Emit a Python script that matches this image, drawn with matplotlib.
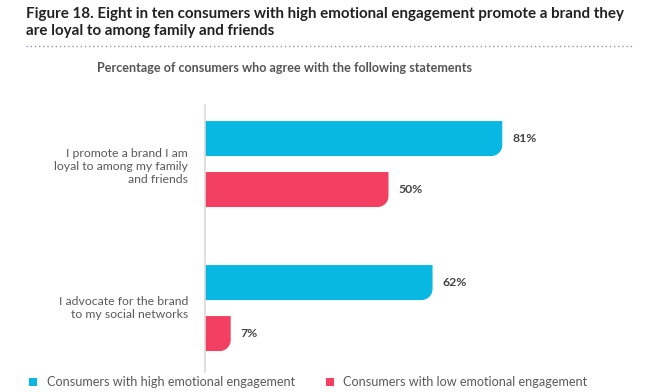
import matplotlib
matplotlib.use("Agg")
import matplotlib.pyplot as plt
from matplotlib.path import Path
from matplotlib.patches import PathPatch, Rectangle

categories = ["I promote a brand I am\nloyal to among my family\nand friends",
              "I advocate for the brand\nto my social networks"]
high = [81, 62]
low = [50, 7]
series_names = ["Consumers with high emotional engagement",
                "Consumers with low emotional engagement"]
title = ("Figure 18. Eight in ten consumers with high emotional engagement promote a brand they\n"
         "are loyal to among family and friends")
subtitle = "Percentage of consumers who agree with the following statements"

CYAN = "#08B8E3"
PINK = "#F23F62"
GRAY = "#5a5a5a"
FONT = "Lato"

W, H = 649, 392
fig = plt.figure(figsize=(W / 100, H / 100), dpi=100)

# axes in pixel placement
ax_l, ax_r, ax_t, ax_b = 205, 572, 105, 372
ax = fig.add_axes([ax_l / W, 1 - ax_b / H, (ax_r - ax_l) / W, (ax_b - ax_t) / H])
ax.set_xlim(0, 100)
ax.set_ylim(1.444, -0.41)
for s in ["top", "right", "bottom"]:
    ax.spines[s].set_visible(False)
ax.spines["left"].set_color("#d9d9d9")
ax.spines["left"].set_linewidth(1.2)
ax.set_xticks([])
ax.set_yticks([])

px_x = 100 / (ax_r - ax_l)      # data units per pixel (x)
px_y = 1.854 / (ax_b - ax_t)    # data units per pixel (y)
bar_h = 35 * px_y
off = 25.5 * px_y
r = 11

def rbar(y_center, value, color):
    x0, x1 = 0, value
    y0, y1 = y_center - bar_h / 2, y_center + bar_h / 2  # y1 is lower visually
    rx, ry = r * px_x, r * px_y
    rx = min(rx, value)
    k = 0.5523
    verts = [(x0, y0), (x1, y0), (x1, y1 - ry),
             (x1, y1 - ry + k * ry), (x1 - rx + k * rx, y1), (x1 - rx, y1),
             (x0, y1), (x0, y0)]
    codes = [Path.MOVETO, Path.LINETO, Path.LINETO,
             Path.CURVE4, Path.CURVE4, Path.CURVE4,
             Path.LINETO, Path.CLOSEPOLY]
    ax.add_patch(PathPatch(Path(verts, codes), facecolor=color, edgecolor="none"))
    ax.text(value + 10 * px_x, y_center, f"{value}%", ha="left", va="center",
            fontsize=8.8, fontweight="bold", color="#444444", family=FONT)

for i, cat in enumerate(categories):
    rbar(i - off, high[i], CYAN)
    rbar(i + off, low[i], PINK)
    ax.text(-17 * px_x, i + (2 * px_y if i == 0 else 0), cat, ha="right", va="center",
            fontsize=8.8, color=GRAY, family=FONT, linespacing=1.22)

fig.text(26 / W, 1 - 7 / H, title, ha="left", va="top", fontsize=10.9,
         fontweight="bold", color="#222222", family=FONT, linespacing=1.3)
fig.add_artist(plt.Line2D([26 / W, 633 / W], [1 - 46 / H, 1 - 46 / H],
                          color="#9a8fa8", lw=1.0, ls=(0, (1, 2))))
fig.text(97 / W, 1 - 68 / H, subtitle, ha="left", va="center", fontsize=9.1,
         fontweight="bold", color="#555555", family=FONT)

# legend
for x_sq, x_tx, name, c in [(29, 47, series_names[0], CYAN), (326, 343, series_names[1], PINK)]:
    fig.add_artist(Rectangle((x_sq / W, 1 - 386 / H), 8 / W, 8 / H, facecolor=c,
                             edgecolor="none", transform=fig.transFigure))
    fig.text(x_tx / W, 1 - 382 / H, name, ha="left", va="center", fontsize=9.1,
             color=GRAY, family=FONT)

fig.savefig("out.png", dpi=100)
